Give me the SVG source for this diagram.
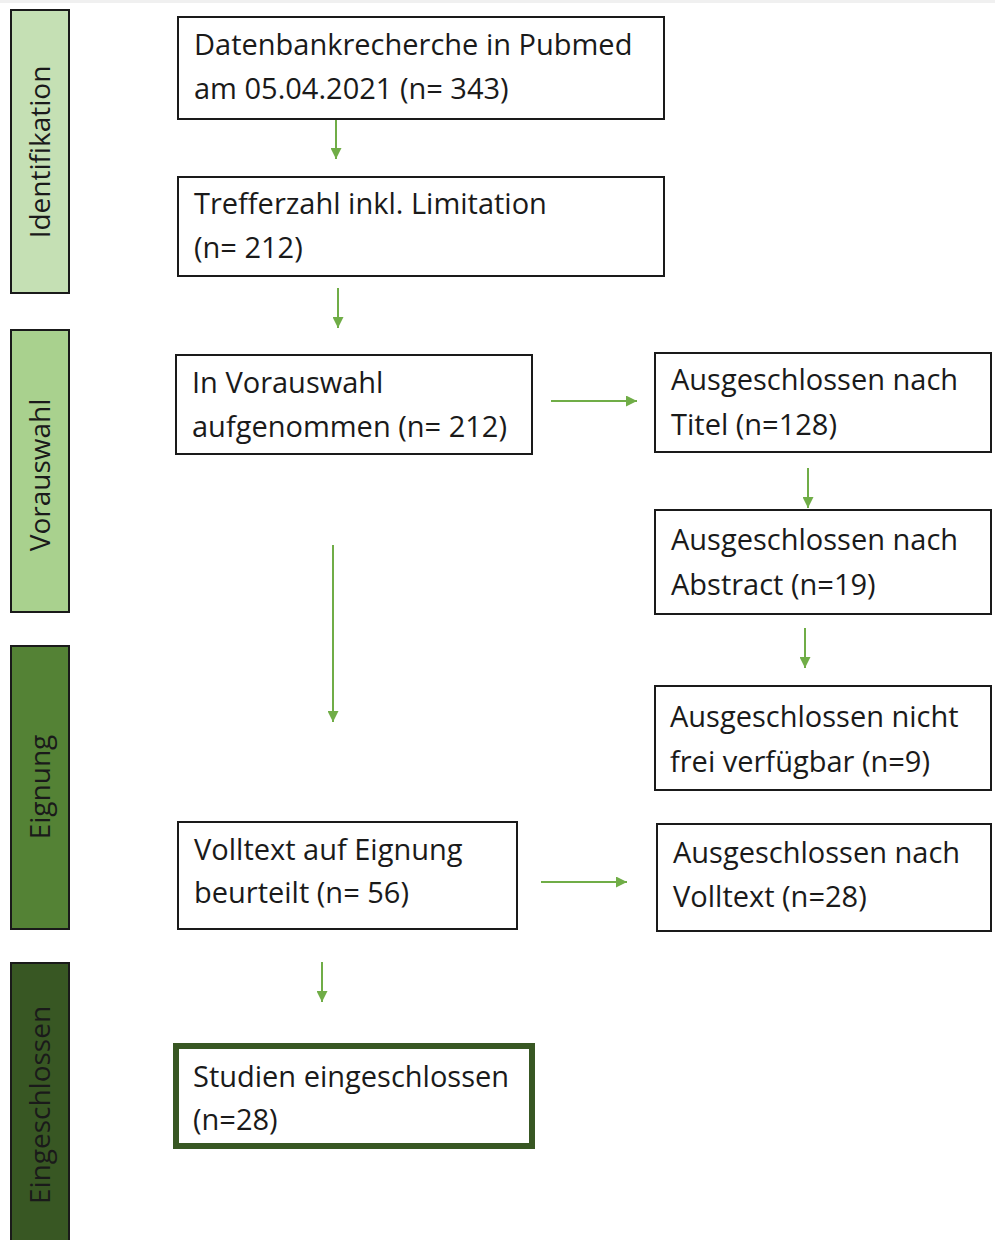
<svg xmlns="http://www.w3.org/2000/svg" width="995" height="1240" viewBox="0 0 995 1240">
<style>
.box{fill:#fff;stroke:#1a1a1a;stroke-width:2}
.fin{fill:#fff;stroke:#385723;stroke-width:6}
.bar{stroke:#1a1a1a;stroke-width:2}
.t{font-family:"Open Sans","Noto Sans",sans-serif;font-size:29px;fill:#1a1a1a}
.v{font-family:"Open Sans","Noto Sans",sans-serif;font-size:28px;fill:#1a1a1a;text-anchor:middle}
.c{stroke:#70ad47;stroke-width:2;fill:none;marker-end:url(#ah)}
</style>
<defs>
<marker id="ah" viewBox="0 0 10 10" refX="10" refY="5" markerWidth="5.5" markerHeight="5.5" orient="auto" markerUnits="strokeWidth">
<path d="M0,0 L10,5 L0,10 z" fill="#70ad47"/>
</marker>
</defs>
<rect width="995" height="1240" fill="#fff"/>
<rect x="0" y="0" width="995" height="3" fill="#f0f0f0"/>
<g id="phase-identifikation"><rect class="bar" x="11" y="10" width="58" height="283" fill="#c5e0b4"/><text class="v" transform="translate(50,152) rotate(-90)">Identifikation</text></g>
<g id="phase-vorauswahl"><rect class="bar" x="11" y="330" width="58" height="282" fill="#a9d18e"/><text class="v" transform="translate(50,475) rotate(-90)">Vorauswahl</text></g>
<g id="phase-eignung"><rect class="bar" x="11" y="646" width="58" height="283" fill="#548235"/><text class="v" transform="translate(50,787) rotate(-90)">Eignung</text></g>
<g id="phase-eingeschlossen"><rect class="bar" x="11" y="963" width="58" height="290" fill="#385723"/><text class="v" transform="translate(50,1105) rotate(-90)">Eingeschlossen</text></g>

<g id="n1"><rect class="box" x="178" y="17" width="486" height="102"/><text class="t" x="194" y="55">Datenbankrecherche in Pubmed</text><text class="t" x="194" y="99">am 05.04.2021 (n= 343)</text></g>
<g id="n2"><rect class="box" x="178" y="177" width="486" height="99"/><text class="t" x="194" y="214">Trefferzahl inkl. Limitation</text><text class="t" x="194" y="258">(n= 212)</text></g>
<g id="n3"><rect class="box" x="176" y="355" width="356" height="99"/><text class="t" x="192" y="393">In Vorauswahl</text><text class="t" x="192" y="437">aufgenommen (n= 212)</text></g>
<g id="n4"><rect class="box" x="655" y="353" width="336" height="99"/><text class="t" x="671" y="390">Ausgeschlossen nach</text><text class="t" x="671" y="435">Titel (n=128)</text></g>
<g id="n5"><rect class="box" x="655" y="510" width="336" height="104"/><text class="t" x="671" y="550">Ausgeschlossen nach</text><text class="t" x="671" y="595">Abstract (n=19)</text></g>
<g id="n6"><rect class="box" x="655" y="686" width="336" height="104"/><text class="t" x="670" y="727">Ausgeschlossen nicht</text><text class="t" x="670" y="772">frei verfügbar (n=9)</text></g>
<g id="n7"><rect class="box" x="657" y="824" width="334" height="107"/><text class="t" x="673" y="863">Ausgeschlossen nach</text><text class="t" x="673" y="907">Volltext (n=28)</text></g>
<g id="n8"><rect class="box" x="178" y="822" width="339" height="107"/><text class="t" x="194" y="860">Volltext auf Eignung</text><text class="t" x="194" y="903">beurteilt (n= 56)</text></g>
<g id="n9"><rect class="fin" x="176" y="1046" width="356" height="100"/><text class="t" x="193" y="1087">Studien eingeschlossen</text><text class="t" x="193" y="1130">(n=28)</text></g>

<g id="connectors">
<line class="c" x1="336" y1="120" x2="336" y2="159"/>
<line class="c" x1="338" y1="288" x2="338" y2="328"/>
<line class="c" x1="551" y1="401" x2="637" y2="401"/>
<line class="c" x1="808" y1="468" x2="808" y2="508"/>
<line class="c" x1="805" y1="628" x2="805" y2="668"/>
<line class="c" x1="333" y1="545" x2="333" y2="722"/>
<line class="c" x1="541" y1="882" x2="627" y2="882"/>
<line class="c" x1="322" y1="962" x2="322" y2="1002"/>
</g>
</svg>
